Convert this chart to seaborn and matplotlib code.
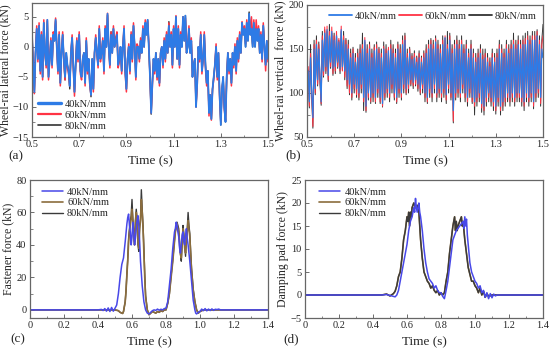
import numpy as np
import pandas as pd
import seaborn as sns
import matplotlib.pyplot as plt
from matplotlib.ticker import MultipleLocator

# ---- data ----
labels = ['40kN/mm', '60kN/mm', '80kN/mm']

# (a) wheel-rail lateral force, 0.5-1.5 s every 0.005 s
t_ab = np.round(np.arange(0.5, 1.50001, 0.005), 3)
lat_40 = [2, -3, -7.5, -1, 3, -2, 3.5, -4, 2, -5, 4, -1, -3, 4.5, -5, -2, 1, -3, 2, 1,
          4.5, 0, -4, 2, -6, -1, 2, -2, -5, -1, -3, -4, -6.5, -1, 1.5, -3, -7.5, -3, 1, -2,
          2, -4, -5, -2, -1, -6, 1, -4, -2, -6, -8, -2, -7, -1, 1.5, -1, -3, 3, -2, -1,
          1, -4, 3, 0, 5.5, 0, -3, 2, -1, 3, 0, 1, 2, -3, -2, 0, -4, 0, 3, -4,
          -7, -2, 0, -4, 2, -2, 3.5, 0, -5, 0, 0, -2, 1, -1, 3, 0, 4, 2, 4.5, 0,
          -5, -11, -6, -2, -4, -1, -5, -2, -6, -1, 0, -3, 1, -2, 2, -1, 3.5, 0, 2, -3,
          3, 0, 5, -2, 3, -3, 2, 0, 5, 1, 5.2, -1, 0, 3, -1, 1, -5, -3, -2, -10,
          -6, 0, -2, 2, -4, -2, 2, -3, -6, -4, -11, -8, -12, -7, -5, -3, 0, -5, -1, -8,
          -13, -7, -5, -10, -12.5, -5, -1, -4, -2, -6, -1, -3, 0, -4, 1, -2, 2, -1, 4, 2,
          3, 0, 4, 1, 5.5, 2, 3, 0, 4, 0, 3, 1, 3, -1, 2, -2, 3.5, 0, -3, 1,
          -2]
lat_60 = [2.5, -3.5, -7.8, -1, 3.5, -2.5, 4, -4.5, 2.5, -5.5, 4.5, -1, -3.5, 4.5, -5.5, -2, 1.5, -3.5, 2.5, 1.5,
          4.8, 0, -4.5, 2.5, -6.5, -1, 2.5, -2.5, -5.5, -1.5, -3.5, -4.5, -6.5, -1, 2, -3.5, -8.2, -3, 1.5, -2.5,
          2.5, -4.5, -5.5, -2, -1, -6.5, 1.5, -4.5, -2, -6.5, -8, -2.5, -7.5, -1, 2, -1, -3.5, 3.5, -2.5, -1,
          1.5, -4.5, 3.5, 0, 5.6, 0, -3.5, 2.5, -1, 3.5, 0, 1.5, 2.5, -3.5, -2.5, 0, -4.5, 0, 3.5, -4.5,
          -7.5, -2, 0.5, -4.5, 2.5, -2.5, 4, 0, -5.5, 0.5, 0, -2.5, 1.5, -1, 3.5, 0, 4.5, 2.5, 4.2, 0.5,
          -5.5, -11, -6.5, -2, -4.5, -1, -5.5, -2, -6.5, -1, 0, -3.5, 1.5, -2.5, 2.5, -1, 4, 0, 2.5, -3.5,
          3.5, 0, 5.2, -2, 3.5, -3.5, 2.5, 0, 5, 1.5, 4.8, -1, 0.5, 3.5, -1, 1.5, -5, -3, -2, -10,
          -6.5, 0, -2.5, 2.5, -4.5, -2, 2.5, -3.5, -6.5, -4, -11.5, -8, -12.2, -7, -5.5, -3, 0.5, -5.5, -1, -8.5,
          -12.5, -7, -5.5, -10.5, -12.3, -5, -1, -4.5, -2, -6.5, -1, -3.5, 0.5, -4.5, 1.5, -2.5, 2.5, -1, 4.2, 2.5,
          3.5, 0.5, 4.5, 1.5, 5, 2.5, 5, 0.5, 4.5, 0.5, 4.5, 1.5, 3.5, -1, 2.5, -2.5, 4, 0, -4, 1,
          -2.5]
lat_80 = [2, -3, -7.2, -1, 3, -2, 3.5, -4, 2, -5, 4, -1, -3, 4.3, -5, -2, 1, -3, 2, 1,
          4.3, 0, -4, 2, -6, -1, 2, -2, -5.5, -1, -3, -4, -7, -1, 1.5, -3, -7.5, -3, 1, -2,
          2, -4, -5, -2, -1, -6, 1, -4, -2, -6, -8.3, -2, -7, -1, 1.5, -1, -3, 3, -2, -1,
          1, -4, 3, 0, 5.3, 0, -3, 2.5, -1, 3, 0, 1.5, 2, -3, -2, 0, -4, 0, 3, -4,
          -7, -2, 0, -4, 2, -2, 3.5, 0, -5, 0, 0, -2, 1, -1, 3, 0, 4, 2, 4.5, 0,
          -5, -11.2, -6, -2, -4, -1, -5, -2, -6, -1, 0, -3, 1, -2, 2, -1, 4.2, 0, 2, -3,
          3, 0, 5, -2, 3, -3, 2, 0, 5, 1, 5.2, -1, 0, 3, -1, 1, -5, -3, -2, -10,
          -6, 0, -2, 2, -4, -2, 2, -3, -6, -4, -11, -8, -12, -7, -5, -3, 0, -5, -1, -8,
          -13, -7, -5, -10, -12.5, -5, -1, -4, -2, -6, -1, -3, 0, -4, 1, -2, 2, -1, 4, 2,
          3, 0, 4, 1, 5.8, 2, 3, 0, 4, 0, 3, 1, 3, -1, 2, -2, 3.5, 0, -3, 1,
          -2]

# (b) wheel-rail vertical force, same time grid
ver_40 = [110, 125, 90, 140, 100, 72, 150, 105, 155, 115, 150, 120, 90, 160, 125, 168, 130, 172, 120, 165,
          135, 170, 128, 160, 130, 165, 135, 158, 128, 172, 130, 160, 125, 155, 115, 150, 110, 140, 100, 145,
          110, 135, 105, 140, 100, 145, 110, 150, 95, 160, 85, 145, 100, 150, 95, 140, 100, 148, 95, 150,
          105, 145, 95, 140, 88, 150, 100, 145, 105, 148, 100, 150, 110, 145, 100, 140, 95, 150, 105, 145,
          100, 155, 110, 160, 105, 140, 110, 145, 115, 138, 112, 140, 115, 135, 110, 140, 105, 135, 110, 140,
          100, 145, 95, 150, 105, 155, 100, 150, 110, 158, 100, 150, 105, 145, 100, 155, 105, 163, 98, 150,
          110, 160, 100, 145, 80, 150, 100, 155, 105, 150, 100, 155, 110, 145, 100, 150, 95, 140, 105, 150,
          95, 140, 90, 135, 95, 140, 100, 145, 88, 138, 85, 140, 95, 135, 100, 130, 95, 140, 90, 135,
          85, 140, 95, 150, 85, 145, 90, 140, 95, 150, 100, 145, 95, 150, 100, 155, 95, 150, 100, 155,
          100, 150, 95, 155, 90, 155, 100, 160, 95, 155, 100, 160, 90, 160, 100, 165, 105, 155, 95, 150,
          140]
ver_60 = [108, 130, 85, 145, 98, 62, 155, 100, 160, 110, 155, 115, 88, 165, 120, 175, 125, 176, 115, 170,
          130, 175, 122, 165, 125, 170, 130, 162, 125, 176, 125, 165, 118, 160, 108, 155, 100, 145, 95, 150,
          105, 140, 98, 145, 95, 150, 105, 155, 90, 163, 80, 150, 95, 155, 90, 145, 95, 152, 90, 155,
          100, 150, 90, 145, 85, 153, 95, 150, 100, 152, 95, 155, 105, 150, 95, 145, 90, 155, 100, 150,
          95, 160, 105, 165, 100, 145, 105, 150, 110, 142, 108, 145, 110, 140, 105, 145, 100, 140, 105, 145,
          95, 150, 90, 155, 100, 160, 95, 155, 105, 162, 95, 155, 100, 150, 95, 160, 100, 165, 92, 155,
          105, 165, 95, 150, 68, 155, 95, 160, 100, 155, 95, 160, 105, 150, 95, 155, 90, 145, 100, 155,
          90, 145, 85, 140, 90, 145, 95, 150, 83, 143, 80, 145, 90, 140, 95, 135, 90, 145, 85, 140,
          80, 145, 90, 155, 80, 150, 85, 145, 90, 155, 95, 150, 90, 155, 95, 160, 90, 155, 95, 160,
          95, 155, 90, 160, 85, 162, 95, 165, 90, 160, 95, 165, 85, 165, 95, 170, 100, 160, 88, 155,
          165]
ver_80 = [106, 126, 83, 155, 95, 60, 160, 98, 165, 108, 158, 112, 86, 170, 118, 172, 122, 170, 113, 178,
          128, 168, 120, 168, 122, 166, 128, 160, 122, 170, 126, 170, 115, 162, 105, 160, 98, 150, 92, 152,
          100, 145, 95, 150, 92, 155, 100, 168, 80, 158, 78, 155, 92, 158, 88, 150, 90, 155, 88, 158,
          95, 152, 88, 150, 84, 158, 92, 155, 95, 150, 90, 160, 100, 155, 92, 150, 88, 158, 95, 155,
          92, 165, 100, 168, 98, 150, 100, 152, 108, 145, 105, 148, 108, 142, 102, 148, 98, 142, 100, 148,
          90, 155, 88, 160, 95, 162, 90, 160, 100, 165, 90, 160, 95, 155, 90, 165, 95, 162, 88, 170,
          100, 168, 92, 155, 66, 160, 92, 165, 95, 160, 90, 165, 100, 155, 90, 160, 85, 150, 95, 160,
          88, 150, 75, 145, 85, 150, 90, 155, 78, 150, 75, 150, 85, 145, 90, 140, 85, 150, 80, 145,
          76, 150, 85, 160, 75, 155, 80, 150, 85, 160, 90, 155, 85, 160, 90, 168, 85, 160, 90, 165,
          90, 160, 85, 165, 80, 168, 90, 170, 85, 165, 90, 170, 82, 170, 90, 172, 95, 165, 85, 160,
          178]

# (c) fastener force
t_c40 = [0, 0.40, 0.42, 0.43, 0.44, 0.45, 0.46, 0.47, 0.48, 0.49, 0.50, 0.51, 0.52, 0.53, 0.54, 0.55,
         0.56, 0.57, 0.575, 0.58, 0.585, 0.59, 0.595, 0.60, 0.605, 0.61, 0.615, 0.62, 0.625, 0.63, 0.635,
         0.64, 0.645, 0.65, 0.66, 0.67, 0.68, 0.69, 0.70, 0.71, 0.72, 0.73, 0.74, 0.75, 0.76, 0.77, 0.78,
         0.79, 0.80, 0.81, 0.82, 0.83, 0.84, 0.85, 0.855, 0.86, 0.865, 0.87, 0.875, 0.88, 0.885, 0.89,
         0.895, 0.90, 0.905, 0.91, 0.915, 0.92, 0.925, 0.93, 0.94, 0.95, 0.96, 0.97, 0.975, 0.98, 0.99,
         1.00, 1.01, 1.02, 1.03, 1.04, 1.05, 1.06, 1.07, 1.08, 1.09, 1.10, 1.11, 1.12, 1.13, 1.4]
f_c40 = [0, 0, 0.3, -0.4, 0.8, -0.8, 1.2, -1, 1.5, -0.8, 1, 3, 10, 20, 28, 32,
         42, 53, 57, 59, 52, 48, 40, 45, 54, 48, 40, 44, 50, 55, 58,
         52, 42, 30, 15, 5, 0, -2, -2.5, -1.5, -0.5, 0, -0.3, 0.5, -0.2, 0.4, 0,
         0.8, 1, 5, 15, 25, 38, 48, 50, 54, 52, 48, 45, 38, 35, 40,
         46, 48, 42, 40, 46, 50, 44, 40, 30, 18, 6, 0, -2, -2.5, -1.5,
         -1, 0.5, -0.5, 0.8, -0.6, 0.5, -0.4, 0.6, -0.3, 0.4, 0.2, 0.5, 0, 0, 0]
t_c60 = [0, 0.50, 0.52, 0.53, 0.54, 0.545, 0.55, 0.56, 0.565, 0.57, 0.575, 0.58, 0.585, 0.59, 0.595,
         0.60, 0.605, 0.61, 0.615, 0.62, 0.625, 0.63, 0.635, 0.64, 0.645, 0.65, 0.655, 0.66, 0.665,
         0.67, 0.675, 0.68, 0.69, 0.70, 0.71, 0.72, 0.73, 0.74, 0.75, 0.76, 0.77, 0.78, 0.79, 0.80,
         0.81, 0.82, 0.83, 0.84, 0.845, 0.85, 0.855, 0.86, 0.865, 0.87, 0.875, 0.88, 0.885, 0.89,
         0.895, 0.90, 0.905, 0.91, 0.915, 0.92, 0.925, 0.93, 0.935, 0.94, 0.945, 0.95, 0.96, 0.97,
         0.98, 0.99, 1.00, 1.01, 1.02, 1.4]
f_c60 = [0, 0, -0.5, -1.5, -2, -2.2, -1, 5, 12, 22, 30, 42, 48, 52, 56,
         62, 55, 45, 40, 52, 60, 55, 42, 38, 50, 55, 68, 60, 50,
         35, 20, 8, 0, -3, -2, -1, -1.5, -2, -1, -1.5, -0.5, -1, 0, 0,
         4, 10, 20, 30, 36, 42, 48, 50, 53, 50, 48, 40, 34, 32,
         40, 50, 45, 38, 35, 42, 48, 55, 50, 45, 35, 25, 12, 5,
         0, -2, -1, -0.5, 0, 0]
f_c80 = [0, 0, -0.5, -1.5, -2, -2.2, -1, 5, 12, 22, 32, 44, 50, 55, 58,
         68, 56, 47, 42, 55, 62, 56, 40, 36, 52, 56, 74, 62, 52,
         38, 22, 9, 0, -3, -2, -1, -1.5, -2, -1, -1.5, -0.5, -1, 0, 0,
         4, 10, 21, 31, 37, 43, 49, 52, 54, 52, 50, 42, 35, 30,
         42, 52, 47, 40, 33, 44, 50, 60, 52, 47, 36, 26, 13, 5,
         0, -2, -1, -0.5, 0, 0]

# (d) damping pad force
t_d40 = [0, 0.45, 0.48, 0.50, 0.52, 0.53, 0.54, 0.55, 0.56, 0.57, 0.58, 0.59, 0.60, 0.61, 0.62,
         0.63, 0.64, 0.645, 0.65, 0.655, 0.66, 0.665, 0.67, 0.675, 0.68, 0.69, 0.70, 0.71, 0.72,
         0.73, 0.74, 0.75, 0.76, 0.77, 0.78, 0.79, 0.80, 0.81, 0.82, 0.83, 0.84, 0.85, 0.86,
         0.87, 0.88, 0.89, 0.90, 0.91, 0.92, 0.93, 0.935, 0.94, 0.945, 0.95, 0.955, 0.96, 0.97,
         0.98, 0.99, 1.00, 1.01, 1.02, 1.03, 1.04, 1.05, 1.06, 1.07, 1.08, 1.09, 1.10, 1.11,
         1.12, 1.13, 1.15, 1.4]
f_d40 = [0, 0, 0.1, -0.1, -0.3, -0.4, 0, 1, 3, 5, 7, 9, 11, 14, 16,
         17, 19, 18, 21, 19, 18, 19, 20, 18, 17, 14, 10, 7, 5,
         3.5, 3, 2.5, 1.5, 2, 1, 0.5, 0.5, -0.3, -0.8, 1, 3, 6, 9,
         12, 13, 14, 14.5, 15, 15.5, 16, 14.5, 17, 15, 16.5, 13, 11, 7,
         5, 4, 3, 2.5, 1.5, 2, 0.5, 1, -0.5, 0.5, -0.8, 0.3, -0.6, 0.2,
         -0.2, 0, 0, 0]
t_d80 = [0, 0.45, 0.48, 0.50, 0.52, 0.53, 0.54, 0.55, 0.56, 0.57, 0.58, 0.59, 0.60, 0.605, 0.61,
         0.615, 0.62, 0.625, 0.63, 0.64, 0.65, 0.66, 0.67, 0.68, 0.69, 0.70, 0.71, 0.72, 0.73,
         0.74, 0.75, 0.76, 0.77, 0.78, 0.79, 0.80, 0.81, 0.82, 0.83, 0.84, 0.85, 0.86, 0.87,
         0.88, 0.885, 0.89, 0.895, 0.90, 0.91, 0.92, 0.925, 0.93, 0.94, 0.95, 0.96, 0.97, 0.98,
         0.99, 1.00, 1.01, 1.02, 1.03, 1.04, 1.05, 1.06, 1.07, 1.08, 1.10, 1.4]
f_d80 = [0, 0, 0.2, -0.2, 0.3, 0.8, 2, 4, 5, 8, 12, 14, 17, 16, 18,
         15, 18, 17, 19, 20, 19, 19.5, 18, 12, 8, 5, 4, 3, 2.5,
         1.5, 2, 1, 0.5, 1, 0, 0.5, 0, 0.5, 3, 5, 9, 12, 15,
         17, 14, 16, 14, 15, 16, 17, 15, 16, 12, 9, 6, 4.5, 3,
         3, 2, 1.5, 0.5, 1.5, 0, 0.8, -0.5, 0.3, -0.3, 0, 0]
f_d60 = f_d80

ab_ticks = [0.5, 0.7, 0.9, 1.1, 1.3, 1.5]

# ---- figure ----
sns.set_theme(style='ticks')
plt.rcParams['font.family'] = ['Liberation Serif', 'DejaVu Serif']

fig = plt.figure(figsize=(5.5, 3.5), dpi=100)
W, H = 550, 350


def add_ax(x0, y0, x1, y1):
    return fig.add_axes([x0 / W, 1 - y1 / H, (x1 - x0) / W, (y1 - y0) / H])


ax_a = add_ax(32, 3, 268, 137)
ax_b = add_ax(307, 5, 543, 137)
ax_c = add_ax(30, 180, 268, 318)
ax_d = add_ax(305, 180, 543, 318)

c_ab = ['#2e7be6', '#ff3344', '#333333']
c_cd = ['#4848e8', '#8b6d3d', '#3a3a3a']

# (a)
for y, c, lw, lab in [(lat_80, c_ab[2], 1.0, labels[2]), (lat_60, c_ab[1], 1.1, labels[1]),
                      (lat_40, c_ab[0], 1.3, labels[0])]:
    sns.lineplot(x=t_ab, y=y, ax=ax_a, color=c, lw=lw, label=lab)
# (b)
for y, c, lw, lab in [(ver_80, c_ab[2], 0.7, labels[2]), (ver_60, c_ab[1], 0.75, labels[1]),
                      (ver_40, c_ab[0], 0.85, labels[0])]:
    sns.lineplot(x=t_ab, y=y, ax=ax_b, color=c, lw=lw, label=lab)
# (c)
sns.lineplot(x=t_c60, y=f_c80, ax=ax_c, color=c_cd[2], lw=1.0, label=labels[2], sort=False)
sns.lineplot(x=t_c60, y=f_c60, ax=ax_c, color=c_cd[1], lw=1.2, label=labels[1], sort=False)
sns.lineplot(x=t_c40, y=f_c40, ax=ax_c, color=c_cd[0], lw=1.1, label=labels[0], sort=False)
# (d)
sns.lineplot(x=t_d80, y=f_d60, ax=ax_d, color=c_cd[1], lw=1.2, label=labels[1], sort=False)
sns.lineplot(x=t_d80, y=f_d80, ax=ax_d, color=c_cd[2], lw=1.0, label=labels[2], sort=False)
sns.lineplot(x=t_d40, y=f_d40, ax=ax_d, color=c_cd[0], lw=1.1, label=labels[0], sort=False)

ax_a.set_xlim(0.5, 1.5); ax_a.set_ylim(-15, 7.3)
ax_b.set_xlim(0.5, 1.5); ax_b.set_ylim(50, 200)
ax_c.set_xlim(0, 1.4); ax_c.set_ylim(-5, 80)
ax_d.set_xlim(0, 1.4); ax_d.set_ylim(-5, 25)

for ax in [ax_a, ax_b]:
    ax.set_xticks(ab_ticks)
    ax.xaxis.set_minor_locator(MultipleLocator(0.1))
    ax.xaxis.set_major_formatter(lambda v, p: f'{v:.1f}')
for ax in [ax_c, ax_d]:
    ax.xaxis.set_major_locator(MultipleLocator(0.2))
    ax.xaxis.set_minor_locator(MultipleLocator(0.1))
    ax.xaxis.set_major_formatter(lambda v, p: '0' if abs(v) < 1e-9 else f'{v:.1f}')
ax_a.yaxis.set_major_locator(MultipleLocator(5)); ax_a.yaxis.set_minor_locator(MultipleLocator(2.5))
ax_b.yaxis.set_major_locator(MultipleLocator(50)); ax_b.yaxis.set_minor_locator(MultipleLocator(25))
ax_c.yaxis.set_major_locator(MultipleLocator(20)); ax_c.yaxis.set_minor_locator(MultipleLocator(10))
ax_d.yaxis.set_major_locator(MultipleLocator(5))

ylabels = ['Wheel-rai lateral force (kN)', 'Wheel-rai vertical  force (kN)',
           'Fastener force (kN)', 'Damping pad force (kN)']
for ax, yl in zip([ax_a, ax_b, ax_c, ax_d], ylabels):
    ax.set_xlabel('Time (s)', fontsize=9.5, labelpad=4)
    ax.set_ylabel(yl, fontsize=8.5, labelpad=1)
    ax.tick_params(which='both', direction='in', labelsize=7.5, pad=2.5, color='#555555')
    ax.tick_params(which='major', length=3, width=0.6)
    ax.tick_params(which='minor', length=1.8, width=0.5)
    for s in ax.spines.values():
        s.set_color('#666666')
        s.set_linewidth(0.9)

# legends
h, l = ax_a.get_legend_handles_labels()
ax_a.legend(h[::-1], l[::-1], loc='lower left', bbox_to_anchor=(0.0, 0.0), frameon=False,
            fontsize=7.5, handlelength=2.2, handletextpad=0.3, labelspacing=0.15, borderaxespad=0.2)
for lh, w in zip(ax_a.get_legend().get_lines(), [2.4, 1.6, 1.2]):
    lh.set_linewidth(w)
h, l = ax_b.get_legend_handles_labels()
ax_b.legend(h[::-1], l[::-1], loc='upper right', ncol=3, frameon=False, fontsize=7.5,
            handlelength=2.2, handletextpad=0.3, columnspacing=0.2, borderaxespad=0.2)
for lh in ax_b.get_legend().get_lines():
    lh.set_linewidth(1.3)
for ax, bx in [(ax_c, 0.02), (ax_d, 0.03)]:
    h, l = ax.get_legend_handles_labels()
    order = [l.index(x) for x in labels]
    ax.legend([h[i] for i in order], labels, loc='upper left', bbox_to_anchor=(bx, 1.0),
              frameon=False, fontsize=7.5, handlelength=2.0, handletextpad=0.4,
              labelspacing=0.15, borderaxespad=0.3)

for txt, x, y in [('(a)', 8, 156), ('(b)', 285, 155), ('(c)', 10, 339), ('(d)', 283, 339)]:
    fig.text(x / W, 1 - y / H, txt, fontsize=9.5, va='center', ha='left')

fig.savefig('out.png', dpi=100)
